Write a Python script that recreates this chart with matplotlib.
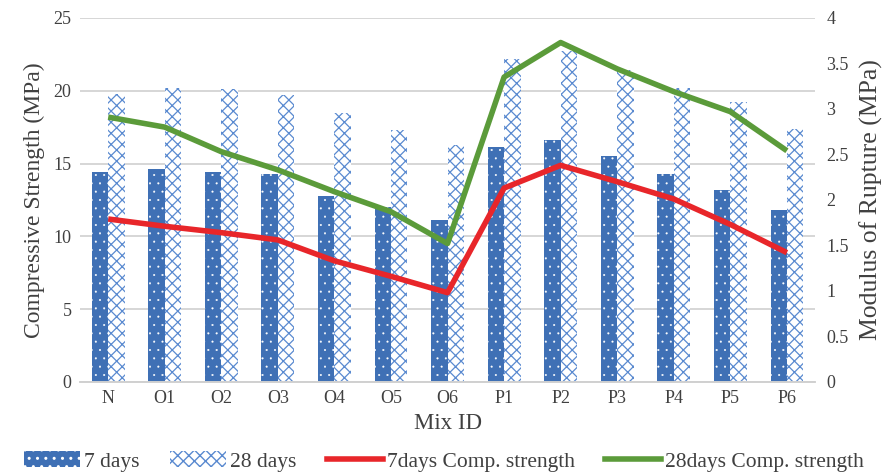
import numpy as np
import matplotlib
matplotlib.use("Agg")
import matplotlib.pyplot as plt
from matplotlib.patches import Patch
from matplotlib.lines import Line2D

plt.rcParams['font.family'] = ['Liberation Serif', 'DejaVu Serif']

mixes = ['N', 'O1', 'O2', 'O3', 'O4', 'O5', 'O6', 'P1', 'P2', 'P3', 'P4', 'P5', 'P6']
cs_7 = [14.4, 14.6, 14.4, 14.3, 12.8, 12.0, 11.1, 16.1, 16.6, 15.5, 14.3, 13.2, 11.8]
cs_28 = [19.8, 20.2, 20.1, 19.7, 18.5, 17.3, 16.3, 22.2, 22.7, 21.4, 20.2, 19.2, 17.4]
mor_7 = [1.79, 1.71, 1.64, 1.56, 1.33, 1.16, 0.98, 2.13, 2.38, 2.20, 2.01, 1.73, 1.42]
mor_28 = [2.91, 2.80, 2.53, 2.33, 2.09, 1.87, 1.52, 3.35, 3.73, 3.44, 3.19, 2.97, 2.54]

blue = '#3f70b5'
xblue = '#5a8ad0'
red = '#e8262a'
green = '#5b9b3a'
grid_c = '#d0d0d0'
txt = '#404040'

fig = plt.figure(figsize=(8.88, 4.72), dpi=100)
ax = fig.add_axes([0.09, 0.191, 0.828, 0.771])
ax2 = ax.twinx()

x = np.arange(len(mixes))
w = 0.29
# hatch line width is picked up when each patch is made
with plt.rc_context({'hatch.linewidth': 0.25}):
    ax.bar(x - w / 2, cs_7, w, color=blue, edgecolor='white', hatch='..', linewidth=0, zorder=2)
    lp7 = Patch(facecolor=blue, edgecolor='white', hatch='..', linewidth=0)
with plt.rc_context({'hatch.linewidth': 0.9}):
    ax.bar(x + w / 2, cs_28, w, color='white', edgecolor=xblue, hatch='xxx', linewidth=0, zorder=2)
    lp28 = Patch(facecolor='white', edgecolor=xblue, hatch='xxx', linewidth=0)

ax2.plot(x, mor_7, color=red, lw=4, solid_capstyle='butt', zorder=3)
ax2.plot(x, mor_28, color=green, lw=4, solid_capstyle='butt', zorder=3)

ax.set_xlim(-0.5, len(mixes) - 0.5)
ax.set_ylim(0, 25)
ax.set_yticks(np.arange(0, 26, 5))
ax2.set_ylim(0, 4)
ax2.set_yticks(np.arange(0, 4.01, 0.5))
ax2.set_yticklabels(['0', '0.5', '1', '1.5', '2', '2.5', '3', '3.5', '4'])
ax.set_xticks(x)
ax.set_xticklabels(mixes)

ax.yaxis.grid(True, color=grid_c, lw=1.2, zorder=0)
ax.set_axisbelow(True)
for a in (ax, ax2):
    for s in ('top', 'left', 'right'):
        a.spines[s].set_visible(False)
    a.spines['bottom'].set_color(grid_c)
    a.spines['bottom'].set_linewidth(1.2)
    a.tick_params(length=0, labelsize=13, colors=txt)
ax.tick_params(axis='x', pad=6)
ax.tick_params(axis='y', pad=6)
ax2.tick_params(axis='y', pad=8)

ax.set_xlabel('Mix ID', fontsize=16.5, color=txt, labelpad=4)
ax.set_ylabel('Compressive Strength (MPa)', fontsize=17, color=txt, labelpad=6)
ax2.set_ylabel('Modulus of Rupture (MPa)', fontsize=18.5, color=txt, labelpad=8)

handles = [lp7, lp28,
           Line2D([], [], color=red, lw=4),
           Line2D([], [], color=green, lw=4)]
labels = ['7 days', '28 days', '7days Comp. strength', '28days Comp. strength']
fig.legend(handles, labels, loc='lower center', bbox_to_anchor=(0.5, -0.04), ncol=4,
           frameon=False, fontsize=15.5, handlelength=2.6, columnspacing=1.4,
           handletextpad=0.2, labelcolor=txt)

fig.savefig('out.png', dpi=100)
